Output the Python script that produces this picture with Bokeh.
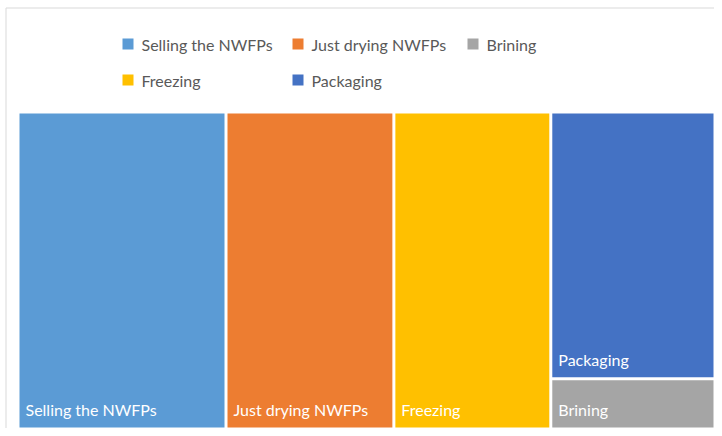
from bokeh.plotting import figure
from bokeh.models import Range1d
from bokeh.core.properties import value
from bokeh.embed import file_html
from bokeh.resources import INLINE

# ---- data ----
categories = ["Selling the NWFPs", "Just drying NWFPs", "Brining", "Freezing", "Packaging"]
values = [57, 46, 7, 43, 38]
colors = ["#5B9BD5", "#ED7D31", "#A5A5A5", "#FFC000", "#4472C4"]
# treemap columns (groups of category indices, left to right, top to bottom)
columns = [[0], [1], [3], [4, 2]]

# ---- layout parameters (pixel coordinates) ----
X0, X1, Y0, Y1 = 17.5, 714.5, 113.0, 427.0
GAP = 3.0
FONT = "Lato"

W, H = 714, 428
p = figure(width=W, height=H, output_backend="svg", toolbar_location=None,
           x_range=Range1d(0, W), y_range=Range1d(H, 0),
           min_border=0, outline_line_color=None)
p.axis.visible = False
p.grid.visible = False
p.background_fill_color = "white"
p.border_fill_color = "white"

# faint chart border
p.line(x=[5.5, 5.5, W], y=[H, 7.5, 7.5], line_color="#D9D9D9", line_width=1)

total = float(sum(values))
qx0, qx1, qy0, qy1, qc, lx, ly, lt = [], [], [], [], [], [], [], []
cx = X0
for col in columns:
    colsum = sum(values[i] for i in col)
    w = (X1 - X0) * colsum / total
    cy = Y0
    for i in col:
        h = (Y1 - Y0) * values[i] / colsum
        qx0.append(cx + GAP / 2); qx1.append(cx + w - GAP / 2)
        qy0.append(cy + (GAP / 2 if cy > Y0 else 0))
        qy1.append(cy + h - (GAP / 2 if cy + h < Y1 - 0.5 else 0))
        qc.append(colors[i])
        lx.append(cx + GAP / 2 + 6)
        ly.append(qy1[-1] - 18)
        lt.append(categories[i])
        cy += h
    cx += w

p.quad(left=qx0, right=qx1, top=qy0, bottom=qy1, fill_color=qc, line_color=None)
p.text(x=lx, y=ly, text=lt, text_color="white", text_font=value(FONT),
       text_font_size="16px", text_baseline="alphabetic", text_align="left")

# ---- legend ----
leg_col_x = [122, 292, 467]
leg_row_y = [43.5, 79.5]
sx, sy, tx = [], [], []
for k in range(len(categories)):
    r, c = divmod(k, 3)
    sx.append(leg_col_x[c] + 5.5)
    sy.append(leg_row_y[r])
    tx.append(leg_col_x[c] + 19)
p.rect(x=sx, y=sy, width=11, height=11, fill_color=colors, line_color=None)
p.text(x=tx, y=sy, text=categories, text_color="#595959", text_font=value(FONT),
       text_font_size="16px", text_baseline="middle", text_align="left")

open("out.html", "w").write(file_html(p, INLINE))
